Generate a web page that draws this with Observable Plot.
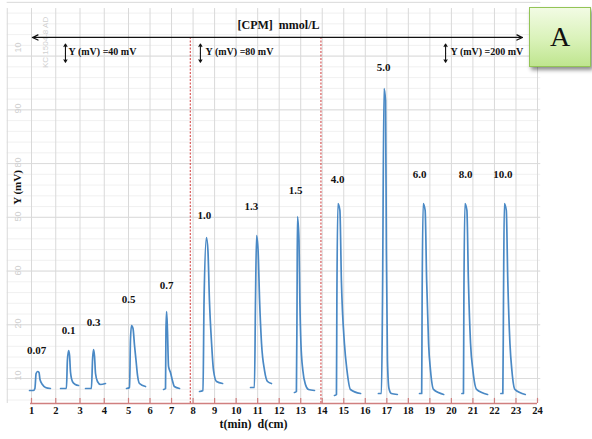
<!DOCTYPE html>
<html>
<head>
<meta charset="utf-8">
<script src="https://cdn.jsdelivr.net/npm/d3@7"></script>
<script src="https://cdn.jsdelivr.net/npm/@observablehq/plot@0.6"></script>
<style>
  html, body { margin: 0; padding: 0; background: #fff; }
  #wrap { position: relative; width: 592px; height: 439px; overflow: hidden; background: #fff; }
  #badge {
    position: absolute; left: 529px; top: 7px; width: 60px; height: 58px;
    border: 1px solid #93c456;
    background: linear-gradient(to bottom, #f2fbe4 0%, #d9f2b8 55%, #bfe58f 100%);
    box-shadow: 2px 3px 4px rgba(0,0,0,0.45);
    font-family: "Liberation Serif", "Times New Roman", serif;
    font-size: 28px; color: #111;
    display: flex; align-items: center; justify-content: center;
  }
</style>
</head>
<body>
<div id="wrap"><div id="badge">A</div></div>
<script>
// ---- Data (x in cm / min, y in chart-paper units) ----
const concentrations = ["0.07","0.1","0.3","0.5","0.7","1.0","1.3","1.5","4.0","5.0","6.0","8.0","10.0"];
const labelX = [1.21, 2.53, 3.56, 5.0, 6.77, 8.53, 10.71, 12.76, 14.71, 16.85, 18.52, 20.66, 22.39];
const labelY = [9.86, 13.59, 15.08, 19.36, 21.96, 34.99, 36.67, 39.64, 41.69, 62.53, 42.62, 42.62, 42.62];

const peak007 = [[0.92,2.42],[1.08,2.42],[1.14,2.79],[1.19,5.58],[1.25,5.96],[1.31,5.77],[1.35,4.47],[1.45,3.54],[1.58,2.98],[1.78,2.79]];
const peak01  = [[2.20,2.79],[2.44,2.79],[2.48,8.0],[2.53,9.86],[2.57,8.93],[2.61,5.77],[2.69,4.09],[2.81,3.54],[2.94,3.35]];
const peak03  = [[3.23,2.79],[3.47,2.79],[3.52,8.37],[3.56,10.05],[3.60,8.75],[3.64,5.58],[3.72,4.09],[3.85,3.54],[4.05,3.72]];
const peak05  = [[4.92,2.79],[5.05,2.98],[5.09,11.72],[5.14,14.52],[5.21,13.96],[5.28,10.79],[5.35,8.0],[5.42,5.21],[5.51,3.72],[5.79,3.16]];
const peak07  = [[6.63,2.61],[6.72,2.79],[6.74,13.59],[6.77,17.12],[6.81,13.59],[6.86,6.89],[6.95,5.77],[7.04,4.28],[7.13,3.16],[7.37,2.79]];
const peak10  = [[8.30,2.23],[8.46,2.42],[8.51,19.17],[8.62,30.89],[8.69,28.47],[8.76,19.17],[8.86,11.17],[8.95,6.14],[9.09,4.09],[9.37,3.72]];
const peak13  = [[10.67,2.98],[10.85,2.98],[10.90,19.17],[10.95,31.27],[11.02,28.47],[11.09,19.17],[11.18,11.17],[11.32,6.14],[11.46,4.09],[11.64,3.72]];
const peak15  = [[12.71,2.05],[12.80,2.23],[12.83,19.17],[12.85,34.80],[12.92,30.33],[12.96,19.17],[13.01,11.17],[13.10,6.14],[13.22,3.54],[13.36,2.61],[13.64,2.42]];
const peak40  = [[14.57,1.49],[14.66,1.68],[14.68,19.17],[14.73,37.22],[14.82,35.92],[14.89,22.89],[15.03,11.17],[15.15,6.14],[15.31,2.61],[15.78,1.86]];
const peak50  = [[16.61,1.86],[16.75,1.86],[16.80,19.17],[16.87,58.62],[16.94,56.39],[16.98,28.47],[17.03,8.0],[17.10,2.79],[17.21,1.86],[17.49,1.68]];
const peak60  = [[18.52,1.86],[18.62,1.86],[18.64,19.17],[18.69,37.22],[18.78,35.92],[18.85,22.89],[18.94,11.17],[19.03,6.14],[19.17,2.61],[19.64,1.68]];
const peak80  = [[20.49,1.86],[20.56,1.86],[20.58,19.17],[20.63,37.22],[20.72,35.92],[20.79,22.89],[20.89,11.17],[21.00,6.14],[21.17,2.61],[21.68,1.68]];
const peak100 = [[22.30,1.86],[22.39,1.86],[22.42,19.17],[22.46,37.22],[22.55,35.92],[22.62,22.89],[22.72,11.17],[22.81,6.14],[22.95,2.61],[23.43,1.68]];

const xTicks = [1,2,3,4,5,6,7,8,9,10,11,12,13,14,15,16,17,18,19,20,21,22,23,24];
const separators = [7.87, 13.94];
const scaleNotes = ["Y (mV) =40 mV", "Y (mV) =80 mV", "Y (mV) =200 mV"];
const scaleNoteX = [2.53, 8.58, 19.96];
const paperNumbers = ["10","90","80","50","60","20","10"];
const paperNumberY = [66.25, 54.9, 44.85, 34.8, 24.75, 14.89, 5.21];

// ---- Build tables ----
const traces = [peak007, peak01, peak03, peak05, peak07, peak10, peak13, peak15, peak40, peak50, peak60, peak80, peak100];
const traceRows = traces.flatMap((pts, i) => pts.map(([x, y]) => ({peak: concentrations[i], x, y})));
const labelRows = concentrations.map((c, i) => ({text: c, x: labelX[i], y: labelY[i]}));

const vGrid = d3.range(0, 25, 1);
const hMajor = d3.range(4.65, 75, 10);
const hMinor = d3.range(0.65, 75, 2);

const serif = "'Liberation Serif', 'Times New Roman', serif";
const red = "#d07f7f";
const blue = "#4a89c5";

const vArrowX = [2.40, 8.34, 19.73];
const vArrows = vArrowX.flatMap(x => [{x, y1: 65.2, y2: 66.9}, {x, y1: 65.2, y2: 63.5}]);
const hArrows = [{x1: 12, x2: 1.04}, {x1: 12, x2: 23.3}];

const chart = Plot.plot({
  width: 592,
  height: 439,
  marginLeft: 31,
  marginRight: 55,
  marginTop: 0,
  marginBottom: 36,
  x: {type: "linear", domain: [1, 5, 24], range: [31, 128, 537], axis: null},
  y: {type: "linear", domain: [0, 75], axis: null},
  style: {fontFamily: serif, fontSize: "10px", background: "transparent", overflow: "visible"},
  marks: [
    // chart paper grid
    Plot.ruleY(hMinor, {y: d => d, x1: 0, x2: 24.15, stroke: "#ececec", strokeWidth: 0.8}),
    Plot.ruleY(hMajor, {y: d => d, x1: 0, x2: 24.15, stroke: "#dcdcdc", strokeWidth: 1}),
    Plot.ruleX(vGrid, {x: d => d, y1: 0, y2: 73.5, stroke: "#d9d9d9", strokeWidth: 1}),
    // faint paper numbers
    Plot.text(paperNumbers, {x: 0.46, y: (d, i) => paperNumberY[i], text: d => d, rotate: -90, fill: "#cfcfcf", fontSize: 9, fontFamily: "Liberation Sans, sans-serif"}),
    Plot.text(["KC 1504-8 AD"], {x: 1.58, y: 67.2, text: d => d, rotate: -90, fill: "#d0d0d0", fontSize: 8, fontFamily: "Liberation Sans, sans-serif"}),
    // red dashed separators
    Plot.ruleX(separators, {x: d => d, y1: 0, y2: 67.9, stroke: "#d23a3a", strokeWidth: 1, strokeDasharray: "2,1.5"}),
    // top double arrow
    Plot.arrow(hArrows, {x1: "x1", x2: "x2", y1: 68.12, y2: 68.12, stroke: "#111", strokeWidth: 1.3, headLength: 7, headAngle: 50}),
    Plot.text(["[CPM]  mmol/L"], {x: 11.97, y: 70.35, text: d => d, fontSize: 12, fontWeight: "bold", fill: "#111"}),
    // scale notes
    Plot.arrow(vArrows, {x1: "x", x2: "x", y1: "y1", y2: "y2", stroke: "#111", strokeWidth: 1.1, headLength: 4, headAngle: 60}),
    Plot.text(scaleNotes, {x: (d, i) => scaleNoteX[i], y: 65.4, text: d => d, textAnchor: "start", fontSize: 10, fontWeight: "bold", fill: "#111"}),
    // x axis
    Plot.ruleY([0], {x1: 0.96, x2: 24, stroke: red, strokeWidth: 1.5}),
    Plot.ruleX(xTicks, {x: d => d, y1: 0, y2: 0.95, stroke: red, strokeWidth: 1.2}),
    Plot.axisX(xTicks, {tickSize: 0, tickPadding: 3, tickFormat: d => String(d), fontSize: 10.5, fontWeight: "bold", fill: "#111"}),
    Plot.text(["t(min)  d(cm)"], {x: 10.81, y: -3.91, text: d => d, fontSize: 12, fontWeight: "bold", fill: "#111"}),
    Plot.text(["Y (mV)"], {x: 0.42, y: 40.2, text: d => d, rotate: -90, fontSize: 11, fontWeight: "bold", fill: "#111"}),
    // peaks
    Plot.line(traceRows, {x: "x", y: "y", z: "peak", stroke: blue, strokeWidth: 1.7, curve: "monotone-x"}),
    Plot.text(labelRows, {x: "x", y: "y", text: "text", fontSize: 11, fontWeight: "bold", fill: "#111"})
  ]
});

document.getElementById("wrap").prepend(chart);
</script>
</body>
</html>
